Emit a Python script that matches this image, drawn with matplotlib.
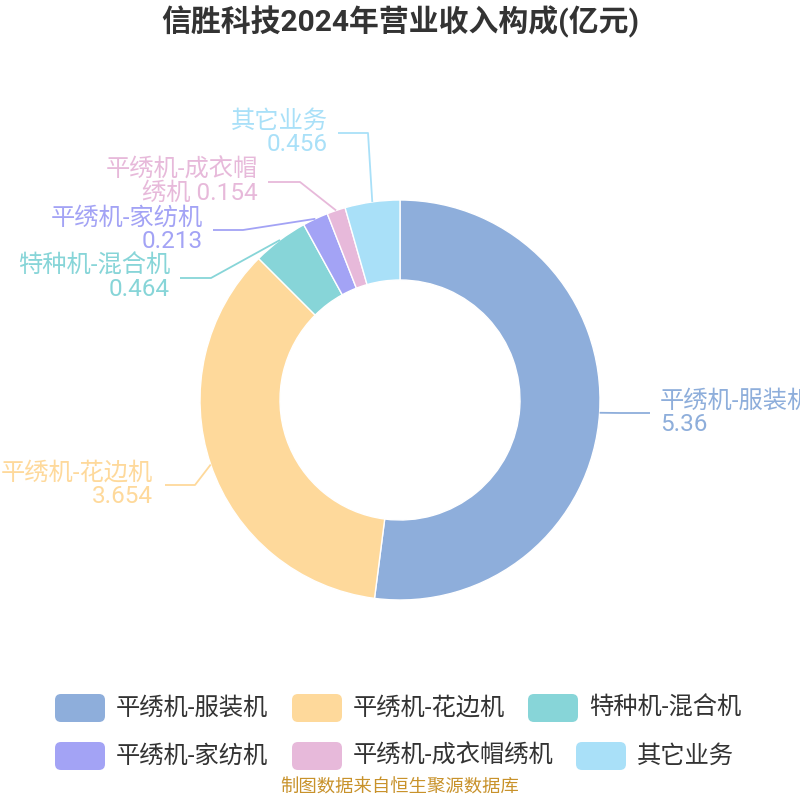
import matplotlib
matplotlib.use("Agg")
import matplotlib.pyplot as plt
from matplotlib.patches import FancyBboxPatch
import numpy as np

plt.rcParams['font.family'] = ['Roboto', 'Noto Sans CJK SC', 'DejaVu Sans']

# ---- data ----
categories = ['平绣机-服装机', '平绣机-花边机', '特种机-混合机',
              '平绣机-家纺机', '平绣机-成衣帽绣机', '其它业务']
values = [5.36, 3.654, 0.464, 0.213, 0.154, 0.456]
label_texts = ['平绣机-服装机\n5.36', '平绣机-花边机\n3.654', '特种机-混合机\n0.464',
               '平绣机-家纺机\n0.213', '平绣机-成衣帽\n绣机 0.154', '其它业务\n0.456']
colors = ['#8eaedb', '#fed99b', '#87d5d8', '#a3a3f5', '#e7b9da', '#a9e0f8']
title = '信胜科技2024年营业收入构成(亿元)'
source = '制图数据来自恒生聚源数据库'

W = H = 800
fig = plt.figure(figsize=(8, 8), dpi=100)
ax = fig.add_axes([0, 0, 1, 1])

def py(y):  # pixel (top-down) -> data y
    return H - y

CX, CY, R = 400, py(400), 200
wedges, _ = ax.pie(values, colors=colors, startangle=90, counterclock=False,
                   radius=R, center=(CX, CY),
                   wedgeprops=dict(width=80, edgecolor='white', linewidth=1))
ax.set_xlim(0, W)
ax.set_ylim(0, H)
ax.set_aspect('equal')
ax.axis('off')

# label layout: (elbow x, elbow y, end x, text x, ha) in pixel coords (y down)
layout = [
    (620, 413, 650, 660, 'left'),
    (195, 485, 165, 153, 'right'),
    (211, 278, 180, 170, 'right'),
    (243, 230, 213, 203, 'right'),
    (300, 182, 268, 258, 'right'),
    (368, 133, 338, 328, 'right'),
]
for w, col, txt, (ex, ey, endx, tx, ha) in zip(wedges, colors, label_texts, layout):
    th = np.deg2rad((w.theta1 + w.theta2) / 2)
    ax_, ay_ = CX + R * np.cos(th), CY + R * np.sin(th)
    ax.plot([ax_, ex, endx], [ay_, py(ey), py(ey)], color=col, lw=1.3,
            solid_capstyle='butt', clip_on=False)
    ax.text(tx, py(ey), txt, color=col, fontsize=17.5, ha=ha, va='center',
            multialignment=ha, linespacing=1.0, clip_on=False)

# title
ax.text(400, py(22), title, fontsize=21.5, fontweight='bold', color='#333333',
        ha='center', va='center')

# legend
legend_pos = [(55, 708), (292, 708), (528, 708), (55, 756), (292, 756), (576, 756)]
for (lx, ly), col, name in zip(legend_pos, colors, categories):
    box = FancyBboxPatch((lx + 3, py(ly) - 11), 44, 22,
                         boxstyle='round,pad=3,rounding_size=6',
                         fc=col, ec='none')
    ax.add_patch(box)
    ax.text(lx + 61, py(ly), name, fontsize=17.5, color='#333333',
            ha='left', va='center')

ax.text(400, py(788), source, fontsize=13.2, color='#c8922b', ha='center', va='center')

fig.savefig('out.png', dpi=100)
